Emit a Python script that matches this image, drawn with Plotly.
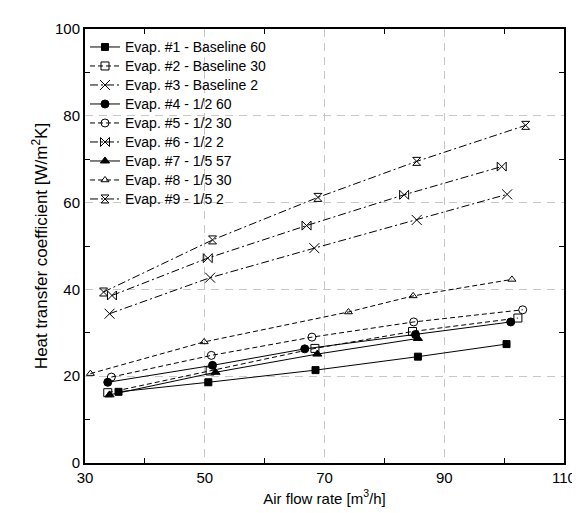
import plotly.graph_objects as go

# ---- data ----
names = ["Evap. #1 - Baseline 60", "Evap. #2 - Baseline 30", "Evap. #3 - Baseline 2",
         "Evap. #4 - 1/2 60", "Evap. #5 - 1/2 30", "Evap. #6 - 1/2 2",
         "Evap. #7 - 1/5 57", "Evap. #8 - 1/5 30", "Evap. #9 - 1/5 2"]

x1 = [35.6, 50.6, 68.5, 85.6, 100.4]
y1 = [16.4, 18.6, 21.4, 24.5, 27.4]
x2 = [33.8, 50.9, 68.4, 84.7, 102.3]
y2 = [16.2, 21.2, 26.4, 30.3, 33.4]
x3 = [34.1, 50.9, 68.3, 85.4, 100.5]
y3 = [34.4, 42.7, 49.5, 56.0, 61.9]
x4 = [33.8, 51.3, 66.7, 85.2, 101.1]
y4 = [18.6, 22.5, 26.3, 29.6, 32.5]
x5 = [34.4, 51.1, 67.9, 84.9, 103.1]
y5 = [19.8, 24.8, 29.0, 32.5, 35.3]
x6 = [34.5, 50.5, 67.0, 83.3, 99.6]
y6 = [38.6, 47.2, 54.7, 61.8, 68.3]
x7 = [34.1, 51.8, 68.8, 85.6]
y7 = [15.7, 20.9, 25.1, 28.7]
x8 = [30.9, 49.9, 74.0, 84.8, 101.3]
y8 = [20.6, 27.9, 34.8, 38.5, 42.3]
x9 = [33.1, 51.3, 68.9, 85.4, 103.6]
y9 = [39.4, 51.4, 61.2, 69.5, 77.8]

xs = [x1, x2, x3, x4, x5, x6, x7, x8, x9]
ys = [y1, y2, y3, y4, y5, y6, y7, y8, y9]

# ---- styles ----
symbols = ["square", "square-open", "x-thin-open", "circle", "circle-open",
           "bowtie-open", "triangle-up", "triangle-up-open", "hourglass-open"]
sizes = [7, 8, 10, 8, 8, 9, 8, 7, 8]
dashes = ["solid", "5px,3px", "8px,3px,2px,3px",
          "solid", "5px,3px", "8px,3px,2px,3px",
          "solid", "5px,3px", "8px,3px,2px,3px"]

fig = go.Figure()
for i in range(9):
    fig.add_trace(go.Scatter(
        x=xs[i], y=ys[i],
        name='<span style="font-size:14px">' + names[i] + '</span>',
        mode="lines+markers",
        line=dict(color="black", width=1, dash=dashes[i]),
        marker=dict(symbol=symbols[i], size=sizes[i], color="black",
                    line=dict(color="black", width=1)),
    ))

font_family = "Liberation Sans, Arial, sans-serif"
fig.update_layout(
    width=580, height=513,
    margin=dict(l=77, r=20, t=19, b=58),
    paper_bgcolor="white", plot_bgcolor="white",
    font=dict(family=font_family, size=15, color="black"),
    showlegend=True,
    legend=dict(x=0.0, y=0.992, xanchor="left", yanchor="top",
                bgcolor="rgba(0,0,0,0)", borderwidth=0,
                font=dict(size=12), itemwidth=30, tracegroupgap=0),
    xaxis=dict(range=[30, 110], dtick=20, tick0=30,
               showgrid=True, gridcolor="#c8c8c8", griddash="8px,6px", gridwidth=1,
               ticks="", showline=True, linecolor="black", linewidth=2, mirror="ticks",
               zeroline=False,
               minor=dict(ticks="inside", ticklen=5, tickcolor="black", dtick=20, tick0=40,
                          showgrid=False),
               title=dict(text="Air flow rate [m<sup>3</sup>/h]", font=dict(size=15), standoff=8),
               tickfont=dict(size=15)),
    yaxis=dict(range=[0, 100], dtick=20, tick0=0,
               showgrid=True, gridcolor="#c8c8c8", griddash="8px,6px", gridwidth=1,
               ticks="", showline=True, linecolor="black", linewidth=2, mirror="ticks",
               zeroline=False,
               minor=dict(ticks="inside", ticklen=5, tickcolor="black", dtick=20, tick0=10,
                          showgrid=False),
               title=dict(text="Heat transfer coefficient [W/m<sup>2</sup>K]", font=dict(size=17), standoff=3),
               tickfont=dict(size=15)),
)

fig.write_html("out.html")
